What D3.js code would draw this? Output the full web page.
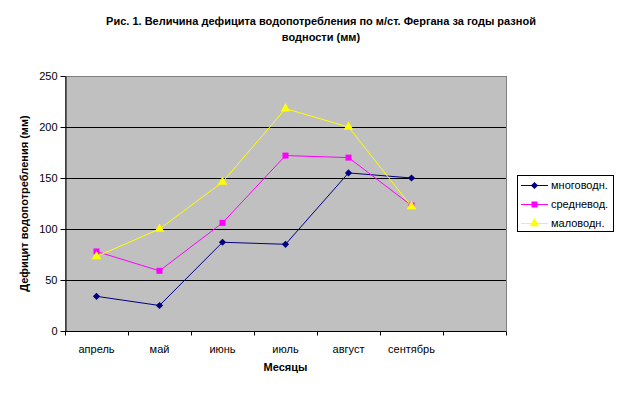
<!DOCTYPE html>
<html><head><meta charset="utf-8">
<script src="https://cdn.jsdelivr.net/npm/d3@7"></script>
<style>body{margin:0;background:#fff}svg{display:block;font-family:"Liberation Sans",Arial,sans-serif}</style>
</head><body>
<svg id="c" width="624" height="397"></svg>
<script>
const months = ["апрель","май","июнь","июль","август","сентябрь",""];
const seriesNames = ["многоводн.","средневод.","маловодн."];
const mnogovod = [34,25,87,85,155,150];
const srednevod = [78,59,106,172,170,123];
const malovod = [73,100,146,218,200,122];
const yTicks = [0,50,100,150,200,250];
const titleLines = ["Рис. 1. Величина дефицита водопотребления по м/ст. Фергана за годы разной","водности (мм)"];
const yTitle = "Дефицит водопотребления (мм)";
const xTitle = "Месяцы";

const colors = ["#000080","#ff00ff","#ffff00"];
const symbols = [d3.symbolSquare, d3.symbolSquare, d3.symbolTriangle];
const symSizes = [26, 36, 40];
const rot = [45, 0, 0];
const data = [mnogovod, srednevod, malovod];

const svg = d3.select("#c");
const L=65, R=506, T=76, B=331;
const x = d3.scaleBand().domain(months.map((m,i)=>i)).range([L,R]);
const y = d3.scaleLinear().domain([0,250]).range([B,T]);

svg.append("rect").attr("x",L).attr("y",T).attr("width",R-L).attr("height",B-T)
  .attr("fill","#c0c0c0").attr("stroke","#808080").attr("stroke-width",1)
  .attr("shape-rendering","crispEdges");

svg.append("g").selectAll("line").data(yTicks.filter(v=>v>0&&v<250)).join("line")
  .attr("x1",L).attr("x2",R).attr("y1",d=>Math.round(y(d))+0.5).attr("y2",d=>Math.round(y(d))+0.5)
  .attr("stroke","#000").attr("stroke-width",1);

const ya = svg.append("g").attr("transform",`translate(${L+0.5},0)`)
  .call(d3.axisLeft(y).tickValues(yTicks).tickSize(5).tickPadding(3).tickSizeOuter(0));
ya.select(".domain").attr("stroke","#000");
ya.selectAll("text").attr("font-size",11).attr("font-family","Liberation Sans, Arial").attr("fill","#000");

const xa = svg.append("g").attr("transform",`translate(0,${B+0.5})`);
xa.append("line").attr("x1",L).attr("x2",R).attr("stroke","#000");
xa.selectAll("line.t").data(d3.range(months.length+1)).join("line").attr("class","t")
  .attr("x1",i=>Math.round(L + i*x.bandwidth())+0.5).attr("x2",i=>Math.round(L + i*x.bandwidth())+0.5)
  .attr("y1",0).attr("y2",4).attr("stroke","#000");
xa.selectAll("text").data(months).join("text")
  .attr("x",(d,i)=>x(i)+x.bandwidth()/2).attr("y",21)
  .attr("text-anchor","middle").attr("font-size",11).text(d=>d);

data.forEach((vals,si)=>{
  const line = d3.line().x((d,i)=>x(i)+x.bandwidth()/2).y(d=>y(d));
  svg.append("path").datum(vals).attr("d",line).attr("fill","none")
    .attr("stroke",colors[si]).attr("stroke-width",1);
  svg.append("g").selectAll("path").data(vals).join("path")
    .attr("transform",(d,i)=>`translate(${x(i)+x.bandwidth()/2},${y(d)}) rotate(${rot[si]})`)
    .attr("d",d3.symbol().type(symbols[si]).size(symSizes[si]))
    .attr("fill",colors[si]);
});

svg.append("text").attr("x",321).attr("y",25).attr("text-anchor","middle")
  .attr("font-size",11).attr("font-weight","bold")
  .selectAll("tspan").data(titleLines).join("tspan")
  .attr("x",321).attr("dy",(d,i)=>i?16:0).text(d=>d);
svg.append("text").attr("transform",`translate(28,${(T+B)/2}) rotate(-90)`)
  .attr("text-anchor","middle").attr("font-size",11).attr("font-weight","bold").text(yTitle);
svg.append("text").attr("x",(L+R)/2).attr("y",371).attr("text-anchor","middle")
  .attr("font-size",11).attr("font-weight","bold").text(xTitle);

const lg = svg.append("g");
lg.append("rect").attr("x",517.5).attr("y",175.5).attr("width",96).attr("height",56)
  .attr("fill","#fff").attr("stroke","#000");
seriesNames.forEach((n,i)=>{
  const yy = 185 + i*19;
  lg.append("line").attr("x1",521).attr("x2",548).attr("y1",yy+0.5).attr("y2",yy+0.5)
    .attr("stroke",colors[i]).attr("stroke-width",1);
  lg.append("path").attr("transform",`translate(534.5,${yy+0.5}) rotate(${rot[i]})`)
    .attr("d",d3.symbol().type(symbols[i]).size(symSizes[i])).attr("fill",colors[i]);
  lg.append("text").attr("x",551).attr("y",yy+4).attr("font-size",11).text(n);
});
</script>
</body></html>
